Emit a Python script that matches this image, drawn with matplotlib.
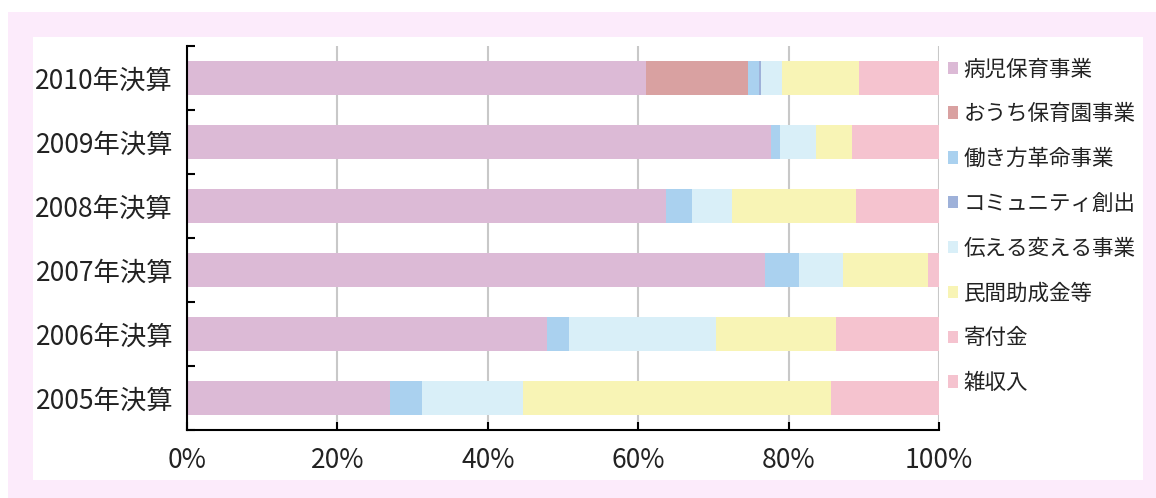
import matplotlib
matplotlib.use('Agg')
import matplotlib.pyplot as plt
import numpy as np
from matplotlib.patches import Rectangle

plt.rcParams['font.family'] = ['Noto Sans CJK JP', 'DejaVu Sans']

# data (percent of total)
years = ['2010年決算', '2009年決算', '2008年決算', '2007年決算', '2006年決算', '2005年決算']
series = ['病児保育事業', 'おうち保育園事業', '働き方革命事業', 'コミュニティ創出',
          '伝える変える事業', '民間助成金等', '寄付金', '雑収入']
byouji   = [61.0, 77.7, 63.7, 76.9, 47.9, 27.0]
ouchi    = [13.6, 0.0, 0.0, 0.0, 0.0, 0.0]
hataraki = [1.4, 1.2, 3.5, 4.5, 2.9, 4.2]
community = [0.3, 0.0, 0.0, 0.0, 0.0, 0.0]
tsutaeru = [2.8, 4.8, 5.3, 5.8, 19.6, 13.5]
minkan   = [10.2, 4.7, 16.4, 11.4, 15.9, 40.9]
kifu     = [9.7, 10.6, 10.1, 0.9, 12.7, 13.4]
zatsu    = [1.0, 1.0, 1.0, 0.5, 1.0, 1.0]
values = [byouji, ouchi, hataraki, community, tsutaeru, minkan, kifu, zatsu]
xticks = [0, 20, 40, 60, 80, 100]

COLORS = ['#dcbad6', '#d9a1a1', '#aad1ef', '#9eb1d9', '#d9eff8', '#f8f4b5', '#f5c3cf', '#f5c3cf']
TEXT_COLOR = '#222222'
FRAME_PINK = '#fcebfb'

fig = plt.figure(figsize=(11.56, 4.98), dpi=100)
fig.patch.set_facecolor('white')
W, H = 1156, 498
# pink frame and inner white card
fig.patches.append(Rectangle((8 / W, 0), 1 - 8 / W, 1 - 12 / H, transform=fig.transFigure,
                             facecolor=FRAME_PINK, edgecolor='none', zorder=-2))
fig.patches.append(Rectangle((33 / W, 1 - 480 / H), (1143 - 33) / W, (480 - 37) / H,
                             transform=fig.transFigure, facecolor='white', edgecolor='none', zorder=-1))

ax = fig.add_axes([187 / W, 1 - 430 / H, (939 - 187) / W, (430 - 46) / H])
ax.set_facecolor('none')

y = np.arange(len(years))
left = np.zeros(len(years))
for name, vals, c in zip(series, values, COLORS):
    vals = np.array(vals)
    ax.barh(y, vals, left=left, height=0.53, color=c, label=name, zorder=2)
    left += vals

ax.set_xlim(0, 100)
ax.set_ylim(len(years) - 0.5, -0.5)
ax.set_xticks(xticks)
ax.set_xticklabels([f'{t}%' for t in xticks], fontsize=19, color=TEXT_COLOR)
ax.set_yticks(y)
ax.set_yticklabels(years, fontsize=19, color=TEXT_COLOR)
ax.set_yticks(np.arange(len(years) + 1) - 0.5, minor=True)
ax.tick_params(axis='y', which='major', length=0, pad=10)
ax.tick_params(axis='y', which='minor', direction='in', length=6, width=1.5, color='black')
ax.tick_params(axis='x', direction='in', length=6, width=1.5, color='black', pad=12)

ax.grid(axis='x', color='#c8c8c8', linewidth=1.5, zorder=0)
ax.set_axisbelow(True)
for s in ['top', 'right']:
    ax.spines[s].set_visible(False)
for s in ['left', 'bottom']:
    ax.spines[s].set_color('black')
    ax.spines[s].set_linewidth(1.5)

leg = ax.legend(loc='upper left', bbox_to_anchor=(1.0, 0.99), frameon=False,
                fontsize=15.5, handlelength=0.5, handleheight=0.5, handletextpad=0.25,
                labelspacing=1.06, borderaxespad=0.0, borderpad=0.4)
for t in leg.get_texts():
    t.set_color(TEXT_COLOR)

fig.savefig('out.png', dpi=100, facecolor=fig.get_facecolor())
